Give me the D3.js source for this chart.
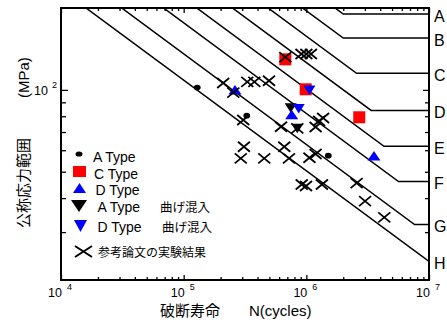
<!DOCTYPE html>
<html>
<head>
<meta charset="utf-8">
<script src="https://cdn.jsdelivr.net/npm/d3@7"></script>
<style>
body { margin: 0; background: #fff; }
svg { display: block; font-family: 'Liberation Sans', Arial, 'Noto Sans CJK JP', sans-serif; }
</style>
</head>
<body>
<script>
// JSSC design curves: strength at 2e6 cycles and cut-off limit (MPa)
const categories = ['A', 'B', 'C', 'D', 'E', 'F', 'G', 'H'];
const fatigueStrength = [190, 155, 125, 100, 80, 65, 50, 40];
const cutoffLimit = [190, 155, 115, 84, 62, 46, 32, 23];

const xTickLabels = [['10', '4'], ['10', '5'], ['10', '6'], ['10', '7']];

// test results (N cycles, stress range MPa)
const aTypeN = [1.29e5, 3.27e5, 1.51e6];
const aTypeS = [102, 80.4, 57.3];
const cTypeN = [6.74e5, 9.88e5, 2.70e6];
const cTypeS = [129.5, 100.5, 79.3];
const dTypeN = [2.62e5, 7.60e5, 3.56e6];
const dTypeS = [100, 81, 57.1];
const aBendN = [7.46e5, 8.44e5];
const aBendS = [86.0, 72.2];
const dBendN = [1.06e6, 8.67e5];
const dBendS = [100, 85.5];
const refN = [6.74e5, 9.13e5, 1.00e6, 1.09e6, 2.10e5, 2.54e5, 3.30e5, 3.77e5, 4.96e5, 3.06e5,
  6.22e5, 8.44e5, 1.37e6, 1.27e6, 1.19e6, 3.10e5, 2.92e5, 4.54e5, 6.61e5, 7.22e5,
  1.06e6, 1.19e6, 9.17e5, 9.94e5, 1.34e6, 2.57e6, 3.01e6, 4.32e6];
const refS = [132, 135.5, 135.5, 135.5, 106, 97.7, 107, 107, 108, 77.5,
  73.2, 72.2, 78.8, 76.8, 73.0, 61.8, 56.0, 56.0, 61.8, 56.0,
  56.3, 58.1, 44.9, 44.3, 44.9, 45.4, 39.0, 34.0];

const width = 447;
const height = 325;
const plot = {left: 61, right: 429, top: 8, bottom: 280};

const svg = d3.select('body').append('svg')
  .attr('width', width)
  .attr('height', height);

svg.append('rect').attr('width', width).attr('height', height).attr('fill', '#fff');

const x = d3.scaleLog().domain([1e4, 1e7]).range([plot.left, plot.right]);
const y = d3.scaleLog().domain([20, 200]).range([plot.bottom, plot.top]);

svg.append('defs').append('clipPath')
  .attr('id', 'plot-clip')
  .append('rect')
  .attr('x', plot.left)
  .attr('y', plot.top)
  .attr('width', plot.right - plot.left)
  .attr('height', plot.bottom - plot.top);

// ticks
const xMajor = [1e4, 1e5, 1e6, 1e7];
const xMinor = x.ticks().filter(v => !xMajor.some(m => Math.abs(m - v) < 1));
const yMinor = y.ticks().filter(v => v !== 100 && v !== 20 && v !== 200);

function tickStyle(g)
{
  g.select('.domain').remove();
  g.selectAll('.tick line').attr('stroke', '#000').attr('stroke-width', 1.3);
}

svg.append('g').attr('transform', `translate(0,${plot.bottom})`)
  .call(d3.axisBottom(x).tickValues(xMinor).tickSize(-3).tickFormat('')).call(tickStyle);
svg.append('g').attr('transform', `translate(0,${plot.bottom})`)
  .call(d3.axisBottom(x).tickValues(xMajor).tickSize(-5).tickFormat('')).call(tickStyle);
svg.append('g').attr('transform', `translate(0,${plot.top})`)
  .call(d3.axisTop(x).tickValues(xMinor).tickSize(-3).tickFormat('')).call(tickStyle);
svg.append('g').attr('transform', `translate(0,${plot.top})`)
  .call(d3.axisTop(x).tickValues(xMajor).tickSize(-5).tickFormat('')).call(tickStyle);
svg.append('g').attr('transform', `translate(${plot.left},0)`)
  .call(d3.axisLeft(y).tickValues(yMinor).tickSize(-5).tickFormat('')).call(tickStyle);
svg.append('g').attr('transform', `translate(${plot.left},0)`)
  .call(d3.axisLeft(y).tickValues([100]).tickSize(-7).tickFormat('')).call(tickStyle);
svg.append('g').attr('transform', `translate(${plot.right},0)`)
  .call(d3.axisRight(y).tickValues(yMinor).tickSize(-4).tickFormat('')).call(tickStyle);
svg.append('g').attr('transform', `translate(${plot.right},0)`)
  .call(d3.axisRight(y).tickValues([100]).tickSize(-6).tickFormat('')).call(tickStyle);

// tick labels with exponents
const xLab = svg.append('g').selectAll('g')
  .data(xMajor)
  .enter()
  .append('g');

xLab.append('text')
  .attr('x', d => x(d) + 1)
  .attr('y', 297)
  .attr('text-anchor', 'end')
  .attr('font-size', 12.5)
  .text((d, i) => xTickLabels[i][0]);

xLab.append('text')
  .attr('x', d => x(d) + 6)
  .attr('y', 290)
  .attr('font-size', 9)
  .text((d, i) => xTickLabels[i][1]);

svg.append('text')
  .attr('x', 48)
  .attr('y', y(100) + 5)
  .attr('text-anchor', 'end')
  .attr('font-size', 12.5)
  .text('10');

svg.append('text')
  .attr('x', 52)
  .attr('y', y(100) - 2)
  .attr('font-size', 9)
  .text('2');

// axis titles
svg.append('text').attr('x', 160).attr('y', 316).attr('font-size', 15).text('破断寿命');
svg.append('text').attr('x', 249).attr('y', 316).attr('font-size', 15).text('N(cycles)');

const yTitle = svg.append('g').attr('transform', 'translate(29,228) rotate(-90)');
yTitle.append('text').attr('x', 0).attr('y', 0).attr('font-size', 15).text('公称応力範囲');
yTitle.append('text').attr('x', 130).attr('y', 0).attr('font-size', 15).text('(MPa)');

// design curves
const curves = categories.map((c, i) => {
  let sf = fatigueStrength[i];
  let sce = cutoffLimit[i];
  let knee = 2e6 * Math.pow(sf / sce, 3);
  let pts = [[1e4, sf * Math.pow(2e6 / 1e4, 1 / 3)]];
  if (knee < 1e7) {
    pts.push([knee, sce]);
    pts.push([1e7, sce]);
  } else {
    pts.push([1e7, sf * Math.pow(2e6 / 1e7, 1 / 3)]);
  }
  return {name: c, points: pts};
});

const line = d3.line().x(d => x(d[0])).y(d => y(d[1]));

svg.append('g')
  .attr('clip-path', 'url(#plot-clip)')
  .selectAll('path')
  .data(curves)
  .enter()
  .append('path')
  .attr('d', d => line(d.points))
  .attr('fill', 'none')
  .attr('stroke', '#000')
  .attr('stroke-width', 1.5);

svg.append('g')
  .selectAll('text')
  .data(curves)
  .enter()
  .append('text')
  .attr('x', 434)
  .attr('y', d => y(d.points[d.points.length - 1][1]) + 7.5)
  .attr('font-size', 16)
  .text(d => d.name);

// markers
const SYM = {
  square: 'M-6,-6H6V6H-6Z',
  up: 'M0,-5L6.5,4.5L-6.5,4.5Z',
  down: 'M-6,-4.5L6,-4.5L0,5Z',
  cross: 'M-6,-5L6,5M-6,5L6,-5'
};

function zip(ns, ss)
{
  return ns.map((n, i) => [n, ss[i]]);
}

const marks = svg.append('g');

function drawSymbol(data, d, fill, stroke)
{
  marks.selectAll(null)
    .data(data)
    .enter()
    .append('path')
    .attr('transform', p => `translate(${x(p[0])},${y(p[1])})`)
    .attr('d', d)
    .attr('fill', fill)
    .attr('stroke', stroke || 'none')
    .attr('stroke-width', 1.8);
}

drawSymbol(zip(cTypeN, cTypeS), SYM.square, '#f00');
drawSymbol(zip(aBendN, aBendS), SYM.down, '#000');
drawSymbol(zip(dBendN, dBendS), SYM.down, '#00f');
drawSymbol(zip(dTypeN, dTypeS), SYM.up, '#00f');

marks.selectAll(null)
  .data(zip(aTypeN, aTypeS))
  .enter()
  .append('ellipse')
  .attr('cx', p => x(p[0]))
  .attr('cy', p => y(p[1]))
  .attr('rx', 3.4)
  .attr('ry', 2.8)
  .attr('fill', '#000');

drawSymbol(zip(refN, refS), SYM.cross, 'none', '#000');

// legend
const legend = svg.append('g').attr('font-size', 14);

legend.append('ellipse').attr('cx', 79).attr('cy', 154).attr('rx', 3.5).attr('ry', 2.6).attr('fill', '#000');
legend.append('text').attr('x', 93).attr('y', 161.5).text('A Type');

legend.append('rect').attr('x', 73).attr('y', 166).attr('width', 13).attr('height', 11).attr('fill', '#f00');
legend.append('text').attr('x', 94).attr('y', 179).text('C Type');

legend.append('path').attr('d', 'M79.5,183L86,193L73,193Z').attr('fill', '#00f');
legend.append('text').attr('x', 95.5).attr('y', 195).text('D Type');

legend.append('path').attr('d', 'M71,200L87,200L79,212Z').attr('fill', '#000');
legend.append('text').attr('x', 97.5).attr('y', 211.5).text('A Type');
legend.append('text').attr('x', 160).attr('y', 211.5).attr('font-size', 12.5).text('曲げ混入');

legend.append('path').attr('d', 'M74,220L87,220L80.5,232Z').attr('fill', '#00f');
legend.append('text').attr('x', 97.5).attr('y', 231.5).text('D Type');
legend.append('text').attr('x', 162).attr('y', 231.5).attr('font-size', 12.5).text('曲げ混入');

legend.append('path').attr('d', 'M75,246L92,257M75,257L92,246').attr('stroke', '#000').attr('stroke-width', 2);
legend.append('text').attr('x', 98).attr('y', 256.5).attr('font-size', 12).text('参考論文の実験結果');

// frame
svg.append('rect')
  .attr('x', plot.left)
  .attr('y', plot.top)
  .attr('width', plot.right - plot.left)
  .attr('height', plot.bottom - plot.top)
  .attr('fill', 'none')
  .attr('stroke', '#000')
  .attr('stroke-width', 2);
</script>
</body>
</html>
